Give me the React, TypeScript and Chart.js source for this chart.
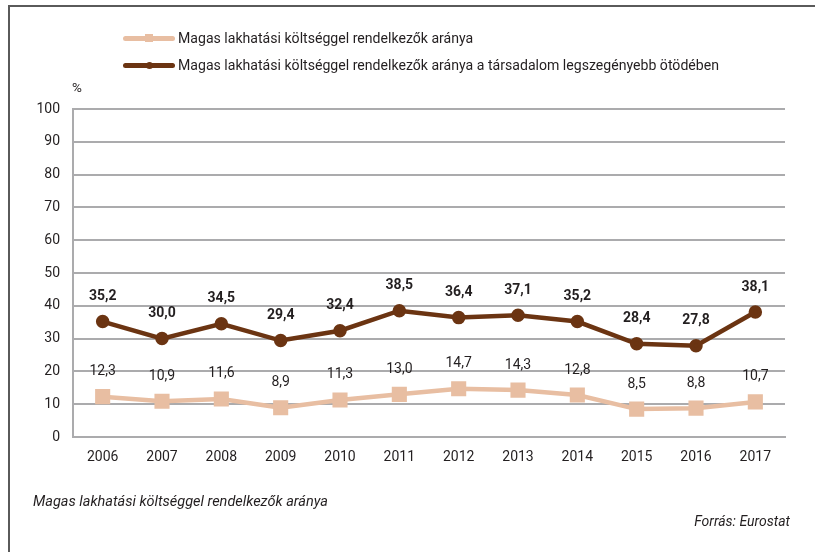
import React, { useEffect, useRef } from "react";
import { Chart, registerables } from "chart.js";

Chart.register(...registerables);

const years = ["2006", "2007", "2008", "2009", "2010", "2011", "2012", "2013", "2014", "2015", "2016", "2017"];
const overall = [12.3, 10.9, 11.6, 8.9, 11.3, 13.0, 14.7, 14.3, 12.8, 8.5, 8.8, 10.7];
const poorest = [35.2, 30.0, 34.5, 29.4, 32.4, 38.5, 36.4, 37.1, 35.2, 28.4, 27.8, 38.1];
const labelOverall = "Magas lakhatási költséggel rendelkezők aránya";
const labelPoorest = "Magas lakhatási költséggel rendelkezők aránya a társadalom legszegényebb ötödében";
const footnote = "Magas lakhatási költséggel rendelkezők aránya";
const source = "Forrás: Eurostat";

const LIGHT = "#E8BEA2";
const DARK = "#6B3412";
const GRID = "#ABABAD";
const TEXT = "#231F20";
const FONT = "Roboto, 'Open Sans', sans-serif";

const fmt = (v: number) => v.toFixed(1).replace(".", ",");

const valueLabels = {
  id: "valueLabels",
  afterDatasetsDraw(chart: any) {
    const ctx = chart.ctx;
    chart.data.datasets.forEach((ds: any, i: number) => {
      const meta = chart.getDatasetMeta(i);
      ctx.save();
      ctx.textAlign = "center";
      ctx.textBaseline = "middle";
      ctx.fillStyle = TEXT;
      ctx.font = i === 1 ? `bold 14px ${FONT}` : `14px ${FONT}`;
      meta.data.forEach((pt: any, j: number) => {
        ctx.fillText(fmt(ds.data[j]), pt.x, pt.y - 25);
      });
      ctx.restore();
    });
  },
};

function LegendItem({ top, color, marker, text }: { top: number; color: string; marker: "square" | "circle"; text: string }) {
  return (
    <div style={{ position: "absolute", left: 123, top: top - 10, height: 20, display: "flex", alignItems: "center" }}>
      <div style={{ position: "relative", width: 52, height: 20 }}>
        <div style={{ position: "absolute", left: 0, top: 7.5, width: 52, height: 5, background: color, borderRadius: 3 }} />
        <div
          style={{
            position: "absolute",
            left: marker === "square" ? 22 : 22.5,
            top: marker === "square" ? 6 : 6.5,
            width: marker === "square" ? 8 : 7,
            height: marker === "square" ? 8 : 7,
            background: color,
            borderRadius: marker === "circle" ? "50%" : 0,
          }}
        />
      </div>
      <span style={{ marginLeft: 3, fontFamily: FONT, fontSize: 14.1, color: TEXT, whiteSpace: "nowrap" }}>{text}</span>
    </div>
  );
}

export default function App() {
  const ref = useRef<HTMLCanvasElement | null>(null);

  useEffect(() => {
    if (!ref.current) return;
    const chart = new Chart(ref.current, {
      type: "line",
      data: {
        labels: years,
        datasets: [
          {
            label: labelOverall,
            data: overall,
            borderColor: LIGHT,
            backgroundColor: LIGHT,
            borderWidth: 4.5,
            pointStyle: "rect",
            pointRadius: 7.5,
            pointHoverRadius: 7.5,
            tension: 0,
          },
          {
            label: labelPoorest,
            data: poorest,
            borderColor: DARK,
            backgroundColor: DARK,
            borderWidth: 4.5,
            pointStyle: "circle",
            pointRadius: 4.5,
            pointHoverRadius: 4.5,
            tension: 0,
          },
        ],
      },
      options: {
        responsive: false,
        animation: false,
        layout: { padding: { left: 0, right: 30, top: 109, bottom: 85 } },
        plugins: { legend: { display: false }, tooltip: { enabled: false } },
        scales: {
          x: {
            offset: true,
            grid: { display: false, drawTicks: false },
            border: { display: true, color: GRID, width: 2 },
            ticks: { color: TEXT, font: { family: FONT, size: 14 }, padding: 12 },
            afterFit: (s: any) => { s.height = 30; },
          },
          y: {
            min: 0,
            max: 100,
            ticks: { stepSize: 10, color: TEXT, font: { family: FONT, size: 14 }, padding: 13 },
            grid: { color: GRID, lineWidth: 2, drawTicks: false },
            border: { display: true, color: GRID, width: 2 },
            afterFit: (s: any) => { s.width = 73; },
          },
        },
      },
      plugins: [valueLabels],
    });
    return () => chart.destroy();
  }, []);

  return (
    <div style={{ position: "fixed", left: 0, top: 0, width: 815, height: 552, background: "#fff", overflow: "hidden" }}>
      <div style={{ position: "absolute", left: 8, top: 5, width: 2, height: 560, background: "#5A5A5A" }} />
      <div style={{ position: "absolute", left: 8, top: 5, width: 810, height: 2, background: "#5A5A5A" }} />
      <canvas ref={ref} width={815} height={552} style={{ position: "absolute", left: 0, top: 0, width: 815, height: 552 }} />
      <LegendItem top={38} color={LIGHT} marker="square" text={labelOverall} />
      <LegendItem top={65} color={DARK} marker="circle" text={labelPoorest} />
      <div style={{ position: "absolute", left: 72, top: 79, fontFamily: FONT, fontSize: 13.5, color: TEXT }}>%</div>
      <div style={{ position: "absolute", left: 33, top: 493, fontFamily: FONT, fontStyle: "italic", fontSize: 14.5, color: TEXT }}>{footnote}</div>
      <div style={{ position: "absolute", right: 25, top: 513, fontFamily: FONT, fontStyle: "italic", fontSize: 14, color: TEXT }}>{source}</div>
    </div>
  );
}
